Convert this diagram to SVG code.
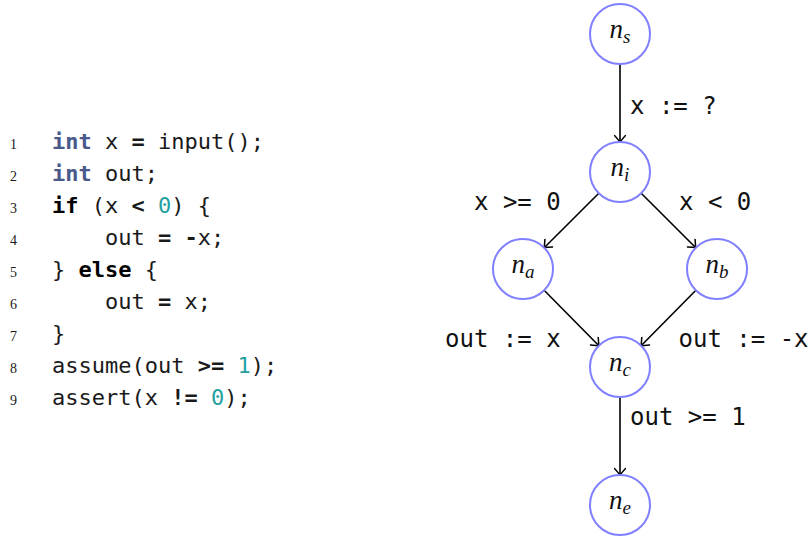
<svg xmlns="http://www.w3.org/2000/svg" width="811" height="536" viewBox="0 0 811 536">
<style>
.code{font-family:"DejaVu Sans Mono","Liberation Mono",monospace;font-size:22px;fill:#1a1a1a;white-space:pre}
.ln{font-family:"Liberation Serif",serif;font-size:14px;fill:#1a1a1a}
.kw{font-weight:bold;fill:#4a5a8c}
.kb{font-weight:bold;fill:#000}
.op{font-weight:bold}
.num{fill:#1fa0a0}
.lbl{font-family:"DejaVu Sans Mono","Liberation Mono",monospace;font-size:24px;fill:#111;white-space:pre}
.node circle{fill:#fff;stroke:#7f7fff;stroke-width:2}
.node text{font-family:"Liberation Serif",serif;font-style:italic;font-size:27px;fill:#111;text-anchor:middle}
.sub{font-size:19px}
.edge{stroke:#000;stroke-width:1.6;fill:none;marker-end:url(#arr)}
</style>
<defs>
<marker id="arr" markerUnits="userSpaceOnUse" viewBox="-8 -6 10 12" refX="0" refY="0" markerWidth="10" markerHeight="12" orient="auto">
<path d="M -6.5 -5.5 Q -2 -1.5 0 0 Q -2 1.5 -6.5 5.5" fill="none" stroke="#000" stroke-width="1.5" stroke-linecap="round"/>
</marker>
</defs>
<rect width="811" height="536" fill="#fff"/>
<g id="code">
<text class="ln" x="10" y="149.3">1</text>
<text class="ln" x="10" y="181.3">2</text>
<text class="ln" x="10" y="213.3">3</text>
<text class="ln" x="10" y="245.3">4</text>
<text class="ln" x="10" y="277.3">5</text>
<text class="ln" x="10" y="309.3">6</text>
<text class="ln" x="10" y="341.3">7</text>
<text class="ln" x="10" y="373.3">8</text>
<text class="ln" x="10" y="405.3">9</text>
<text class="code" x="52" y="149.3"><tspan class="kw">int</tspan> x <tspan class="op">=</tspan> input();</text>
<text class="code" x="52" y="181.3"><tspan class="kw">int</tspan> out;</text>
<text class="code" x="52" y="213.3"><tspan class="kb">if</tspan> (x <tspan class="op">&lt;</tspan> <tspan class="num">0</tspan>) {</text>
<text class="code" x="52" y="245.3">    out <tspan class="op">=</tspan> <tspan class="op">-</tspan>x;</text>
<text class="code" x="52" y="277.3">} <tspan class="kb">else</tspan> {</text>
<text class="code" x="52" y="309.3">    out <tspan class="op">=</tspan> x;</text>
<text class="code" x="52" y="341.3">}</text>
<text class="code" x="52" y="373.3">assume(out <tspan class="op">&gt;=</tspan> <tspan class="num">1</tspan>);</text>
<text class="code" x="52" y="405.3">assert(x <tspan class="op">!=</tspan> <tspan class="num">0</tspan>);</text>
</g>
<g id="connectors">
<line class="edge" x1="620" y1="64" x2="620" y2="142"/>
<line class="edge" x1="598.8" y1="193.2" x2="544.2" y2="247.8"/>
<line class="edge" x1="641.2" y1="193.2" x2="695.8" y2="247.8"/>
<line class="edge" x1="544.1" y1="290.3" x2="598.9" y2="345.7"/>
<line class="edge" x1="695.9" y1="290.3" x2="641.1" y2="345.7"/>
<line class="edge" x1="620" y1="397" x2="620" y2="475"/>
<text class="lbl" x="630" y="114">x := ?</text>
<text class="lbl" x="474" y="210">x &gt;= 0</text>
<text class="lbl" x="679" y="210">x &lt; 0</text>
<text class="lbl" x="445" y="346.7">out := x</text>
<text class="lbl" x="678.5" y="346.7">out := -x</text>
<text class="lbl" x="630" y="425">out &gt;= 1</text>
</g>
<g id="n_s" class="node"><circle cx="620" cy="34" r="30"/><text x="620" y="38">n<tspan class="sub" dy="5">s</tspan></text></g>
<g id="n_i" class="node"><circle cx="620" cy="172" r="30"/><text x="620" y="176">n<tspan class="sub" dy="5">i</tspan></text></g>
<g id="n_a" class="node"><circle cx="523" cy="269" r="30"/><text x="523" y="273">n<tspan class="sub" dy="5">a</tspan></text></g>
<g id="n_b" class="node"><circle cx="717" cy="269" r="30"/><text x="717" y="273">n<tspan class="sub" dy="5">b</tspan></text></g>
<g id="n_c" class="node"><circle cx="620" cy="367" r="30"/><text x="620" y="371">n<tspan class="sub" dy="5">c</tspan></text></g>
<g id="n_e" class="node"><circle cx="620" cy="505" r="30"/><text x="620" y="509">n<tspan class="sub" dy="5">e</tspan></text></g>
</svg>
